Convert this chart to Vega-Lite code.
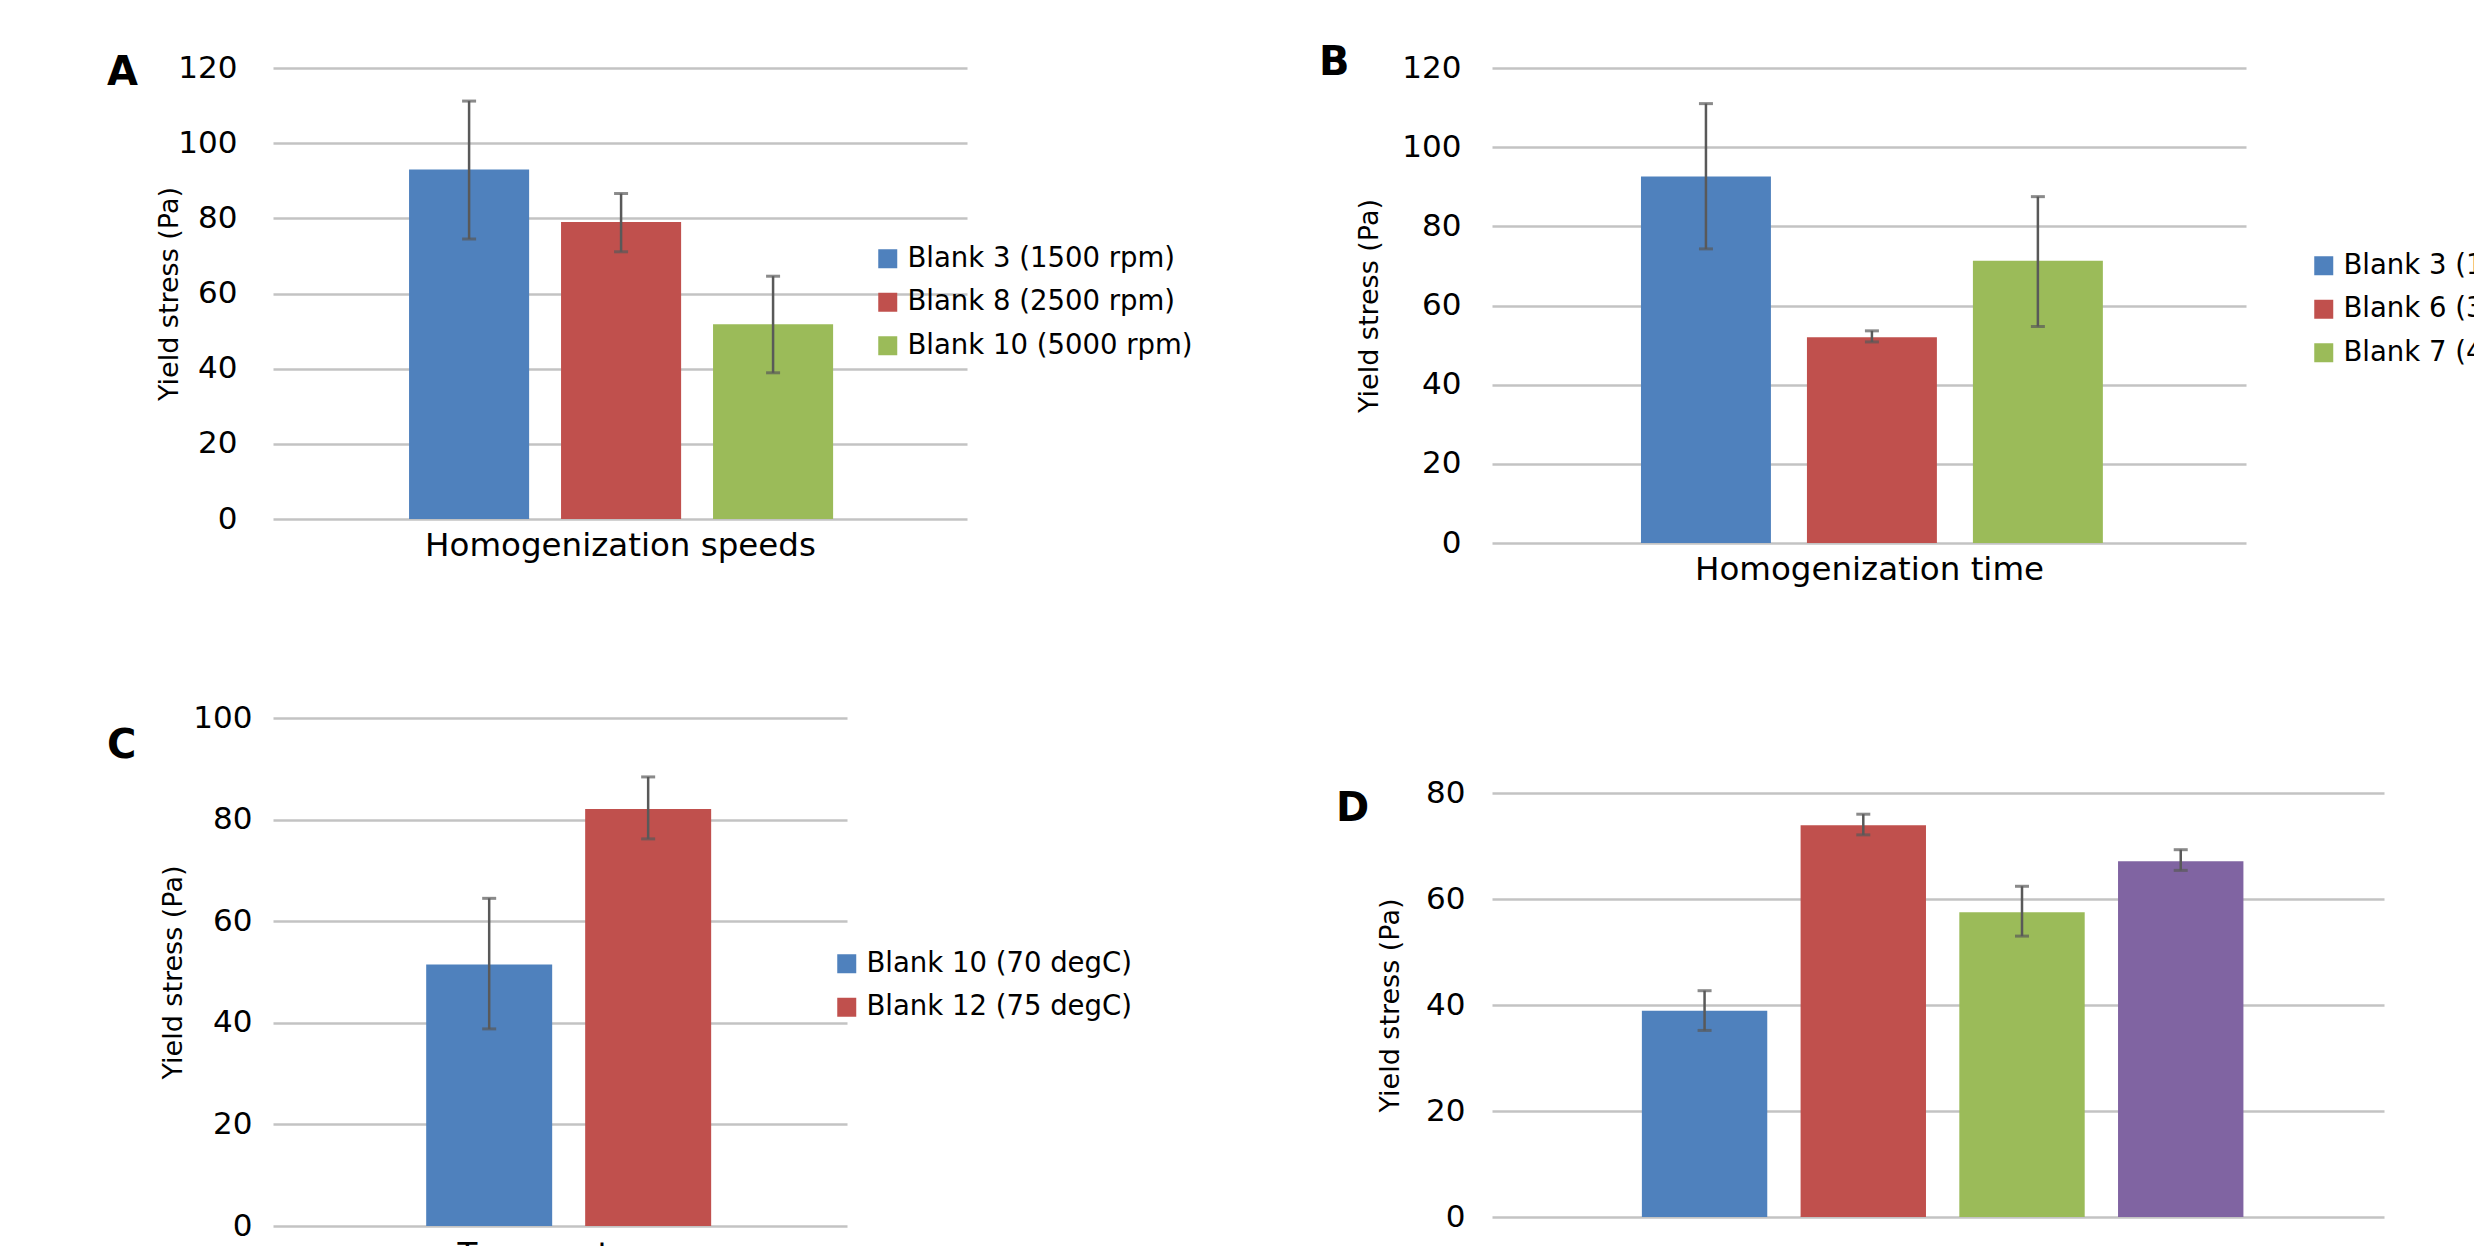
{
  "$schema": "https://vega.github.io/schema/vega-lite/v6.json",
  "background": "white",
  "autosize": {"type": "pad"},
  "padding": {"left": 107, "top": 43, "right": 0, "bottom": 0},
  "datasets": {
    "a": [
      {"series": "Blank 3 (1500 rpm)", "value": 93.0, "lo": 74.5, "hi": 111.2},
      {"series": "Blank 8 (2500 rpm)", "value": 79.0, "lo": 71.1, "hi": 86.6},
      {"series": "Blank 10 (5000 rpm)", "value": 51.8, "lo": 38.9, "hi": 64.6}
    ],
    "b": [
      {"series": "Blank 3 (10 min)", "value": 92.6, "lo": 74.3, "hi": 111.0},
      {"series": "Blank 6 (30 min)", "value": 52.0, "lo": 50.8, "hi": 53.6},
      {"series": "Blank 7 (45 min)", "value": 71.3, "lo": 54.7, "hi": 87.5}
    ],
    "c": [
      {"series": "Blank 10 (70 degC)", "value": 51.5, "lo": 38.8, "hi": 64.5},
      {"series": "Blank 12 (75 degC)", "value": 82.1, "lo": 76.2, "hi": 88.4}
    ],
    "d": [
      {"series": "D1", "value": 38.9, "lo": 35.2, "hi": 42.7},
      {"series": "D2", "value": 73.9, "lo": 72.1, "hi": 76.0},
      {"series": "D3", "value": 57.5, "lo": 53.0, "hi": 62.4},
      {"series": "D4", "value": 67.1, "lo": 65.4, "hi": 69.3}
    ]
  },
  "spacing": 126,
  "resolve": {"scale": {"color": "independent", "x": "independent", "y": "independent"}, "legend": {"color": "independent"}},
  "hconcat": [
    {
      "spacing": 140,
      "resolve": {"scale": {"color": "independent", "x": "independent", "y": "independent"}, "legend": {"color": "independent"}},
      "vconcat": [
        {
          "data": {"name": "a"},
          "width": 694,
          "height": 451,
          "title": {"text": "A", "anchor": "start", "frame": "group", "dx": -166, "dy": 73, "offset": 0, "baseline": "alphabetic", "fontSize": 40, "fontWeight": "bold", "font": "DejaVu Sans", "color": "#000000"},
          "encoding": {
            "x": {"field": "series", "type": "nominal", "sort": null, "scale": {"paddingInner": 0.21, "paddingOuter": 0.888, "align": 0.504}, "axis": {"title": "Homogenization speeds"}}
          },
          "layer": [
            {
              "mark": {"type": "bar"},
              "encoding": {
                "y": {"field": "value", "type": "quantitative", "scale": {"domain": [0, 120]}, "axis": {"values": [0, 20, 40, 60, 80, 100, 120], "title": "Yield stress (Pa)", "labelPadding": 36, "titlePadding": -6}},
                "color": {"field": "series", "type": "nominal", "sort": null, "scale": {"range": ["#4F81BD", "#C0504D", "#9BBB59"]}, "legend": {"orient": "none", "legendX": 601, "legendY": 177, "title": null}}
              }
            },
            {
              "mark": {"type": "errorbar", "color": "#595959", "ticks": {"size": 14, "thickness": 3, "color": "#595959"}, "rule": {"strokeWidth": 2.5}},
              "encoding": {
                "y": {"field": "lo", "type": "quantitative", "title": "Yield stress (Pa)"},
                "y2": {"field": "hi"}
              }
            }
          ]
        },
        {
          "data": {"name": "c"},
          "width": 574,
          "height": 508,
          "title": {"text": "C", "anchor": "start", "frame": "group", "dx": -166, "dy": 96, "offset": 0, "baseline": "alphabetic", "fontSize": 40, "fontWeight": "bold", "font": "DejaVu Sans", "color": "#000000"},
          "encoding": {
            "x": {"field": "series", "type": "nominal", "sort": null, "scale": {"paddingInner": 0.2075, "paddingOuter": 0.909, "align": 0.53}, "axis": {"title": "Temperature", "titlePadding": 12}}
          },
          "layer": [
            {
              "mark": {"type": "bar"},
              "encoding": {
                "y": {"field": "value", "type": "quantitative", "scale": {"domain": [0, 100]}, "axis": {"values": [0, 20, 40, 60, 80, 100], "title": "Yield stress (Pa)", "labelPadding": 21, "titlePadding": 5}},
                "color": {"field": "series", "type": "nominal", "sort": null, "scale": {"range": ["#4F81BD", "#C0504D"]}, "legend": {"orient": "none", "legendX": 560, "legendY": 232, "title": null}}
              }
            },
            {
              "mark": {"type": "errorbar", "color": "#595959", "ticks": {"size": 14, "thickness": 3, "color": "#595959"}, "rule": {"strokeWidth": 2.5}},
              "encoding": {
                "y": {"field": "lo", "type": "quantitative", "title": "Yield stress (Pa)"},
                "y2": {"field": "hi"}
              }
            }
          ]
        }
      ]
    },
    {
      "spacing": 191,
      "resolve": {"scale": {"color": "independent", "x": "independent", "y": "independent"}, "legend": {"color": "independent"}},
      "vconcat": [
        {
          "data": {"name": "b"},
          "width": 754,
          "height": 475,
          "title": {"text": "B", "anchor": "start", "frame": "group", "dx": -173, "dy": 63, "offset": 0, "baseline": "alphabetic", "fontSize": 40, "fontWeight": "bold", "font": "DejaVu Sans", "color": "#000000"},
          "encoding": {
            "x": {"field": "series", "type": "nominal", "sort": null, "scale": {"paddingInner": 0.217, "paddingOuter": 0.88, "align": 0.51}, "axis": {"title": "Homogenization time"}}
          },
          "layer": [
            {
              "mark": {"type": "bar"},
              "encoding": {
                "y": {"field": "value", "type": "quantitative", "scale": {"domain": [0, 120]}, "axis": {"values": [0, 20, 40, 60, 80, 100, 120], "title": "Yield stress (Pa)", "labelPadding": 31, "titlePadding": 18}},
                "color": {"field": "series", "type": "nominal", "sort": null, "scale": {"range": ["#4F81BD", "#C0504D", "#9BBB59"]}, "legend": {"orient": "none", "legendX": 818, "legendY": 184, "title": null}}
              }
            },
            {
              "mark": {"type": "errorbar", "color": "#595959", "ticks": {"size": 14, "thickness": 3, "color": "#595959"}, "rule": {"strokeWidth": 2.5}},
              "encoding": {
                "y": {"field": "lo", "type": "quantitative", "title": "Yield stress (Pa)"},
                "y2": {"field": "hi"}
              }
            }
          ]
        },
        {
          "data": {"name": "d"},
          "width": 892,
          "height": 424,
          "title": {"text": "D", "anchor": "start", "frame": "group", "dx": -156, "dy": 84, "offset": 0, "baseline": "alphabetic", "fontSize": 40, "fontWeight": "bold", "font": "DejaVu Sans", "color": "#000000"},
          "encoding": {
            "x": {"field": "series", "type": "nominal", "sort": null, "scale": {"paddingInner": 0.21, "paddingOuter": 0.915, "align": 0.516}, "axis": {"title": null}}
          },
          "layer": [
            {
              "mark": {"type": "bar"},
              "encoding": {
                "y": {"field": "value", "type": "quantitative", "scale": {"domain": [0, 80]}, "axis": {"values": [0, 20, 40, 60, 80], "title": "Yield stress (Pa)", "labelPadding": 27, "titlePadding": 21}},
                "color": {"field": "series", "type": "nominal", "sort": null, "scale": {"range": ["#4F81BD", "#C0504D", "#9BBB59", "#8064A2"]}, "legend": null}
              }
            },
            {
              "mark": {"type": "errorbar", "color": "#595959", "ticks": {"size": 14, "thickness": 3, "color": "#595959"}, "rule": {"strokeWidth": 2.5}},
              "encoding": {
                "y": {"field": "lo", "type": "quantitative", "title": "Yield stress (Pa)"},
                "y2": {"field": "hi"}
              }
            }
          ]
        }
      ]
    }
  ],
  "config": {
    "view": {"stroke": null},
    "font": "DejaVu Sans",
    "axis": {"labelFont": "DejaVu Sans", "titleFont": "DejaVu Sans", "labelColor": "#000000", "titleColor": "#000000", "titleFontWeight": "normal", "domain": false, "ticks": false},
    "axisY": {"labelFontSize": 31, "titleFontSize": 27, "grid": true, "gridColor": "#C3C3C3", "gridWidth": 2.5},
    "axisX": {"grid": false, "labels": false, "titleFontSize": 32.5, "titlePadding": 10},
    "legend": {"labelFont": "DejaVu Sans", "labelFontSize": 27.5, "labelColor": "#000000", "symbolType": "square", "symbolSize": 361, "symbolStrokeWidth": 0, "rowPadding": 14.5, "labelOffset": 6, "padding": 0, "labelLimit": 500}
  }
}
